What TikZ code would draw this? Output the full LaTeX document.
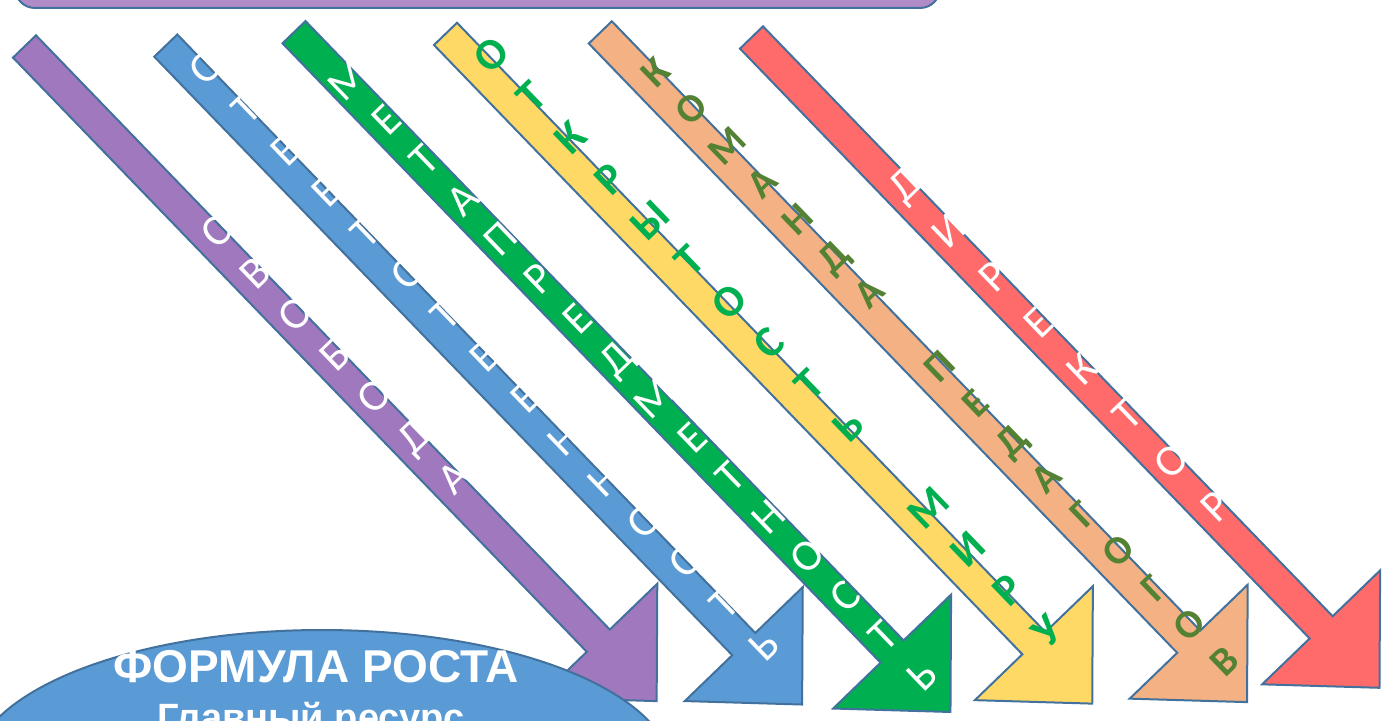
\documentclass[tikz,border=0pt]{standalone}
\usepackage{fontspec}
\usetikzlibrary{shapes.geometric}
\setmainfont{Carlito}
\newfontfamily\headfont{Liberation Sans}
\definecolor{cpurple}{HTML}{A078BE}
\definecolor{cblue}{HTML}{5B9BD5}
\definecolor{cgreen}{HTML}{00B050}
\definecolor{cyellow}{HTML}{FFD966}
\definecolor{corange}{HTML}{F4B183}
\definecolor{cred}{HTML}{FF6B6B}
\definecolor{cedge}{HTML}{41719C}
\definecolor{colive}{HTML}{548235}
\definecolor{ctop}{HTML}{B08BC8}
\tikzset{
  arrowbody/.style={draw=cedge, line width=1pt, line join=miter},
  letter/.style={inner sep=0pt, rotate=44, text height=0.64em, text depth=0pt, font=\fontsize{22}{26}\selectfont},
  whiteletter/.style={letter, text=white},
  greenletter/.style={letter, text=cgreen, font=\bfseries\fontsize{22}{26}\selectfont},
  oliveletter/.style={letter, text=colive, font=\bfseries\fontsize{20}{24}\selectfont},
}
% #1 x, #2 y, #3 length, #4 fill, #5 start, #6 step, #7 offset, #8 letter style, #9 letters
\newcommand\diagarrow[9]{%
  \begin{scope}[shift={(#1,#2)}, rotate=-46]
    \draw[arrowbody, fill=#4] (0,-16) -- ({#3-84},-16) -- ({#3-84},-82) -- (#3,0)
      -- ({#3-84},82) -- ({#3-84},16) -- (0,16) -- cycle;
    \foreach \ch [count=\i from 0] in {#9} {
      \node[#8] at ({#5+\i*#6},#7) {\ch};
    }
  \end{scope}}
\begin{document}
\begin{tikzpicture}[x=0.5pt,y=-0.5pt]
\useasboundingbox (0,0) rectangle (1384,721);
\clip (0,0) rectangle (1384,721);
\fill[white] (0,0) rectangle (1384,721);
% top banner
\draw[fill=ctop, draw=cedge, line width=1pt, rounded corners=10pt] (15,-60) rectangle (940,8);
% arrows
\diagarrow{24.5}{46.5}{910}{cpurple}{274}{57}{-9}{whiteletter}{С,В,О,Б,О,Д,А}
\diagarrow{165.8}{45.6}{916}{cblue}{52}{57.3}{-14}{whiteletter}{О,Т,В,Е,Т,С,Т,В,Е,Н,Н,О,С,Т,Ь}
\diagarrow{294}{32.2}{945}{cgreen}{80}{55.1}{-5}{whiteletter}{М,Е,Т,А,П,Р,Е,Д,М,Е,Т,Н,О,С,Т,Ь}
\diagarrow{445.5}{33.9}{931}{cyellow}{55}{57.2}{-18}{greenletter}{О,Т,К,Р,Ы,Т,О,С,Т,Ь,{},М,И,Р,У}
\diagarrow{600.3}{32.4}{931}{corange}{73.5}{51.2}{-12}{oliveletter}{К,О,М,А,Н,Д,А,{},П,Е,Д,А,Г,О,Г,О,В}
\diagarrow{751.5}{37.5}{904}{cred}{220}{64}{-8}{whiteletter}{Д,И,Р,Е,К,Т,О,Р}
% ellipse
\node[draw=cedge, fill=cblue, line width=1pt, ellipse, minimum width=350pt, minimum height=142pt, inner sep=0pt] (formula) at (322,772) {};
\node[anchor=base, text=white, font=\headfont\bfseries\fontsize{23}{27}\selectfont, inner sep=0pt] (title) at (316,682) {ФОРМУЛА РОСТА};
\node[anchor=base, text=white, font=\headfont\bfseries\fontsize{19}{22}\selectfont, inner sep=0pt] (sub) at (311,730) {Главный ресурс};
\end{tikzpicture}
\end{document}
